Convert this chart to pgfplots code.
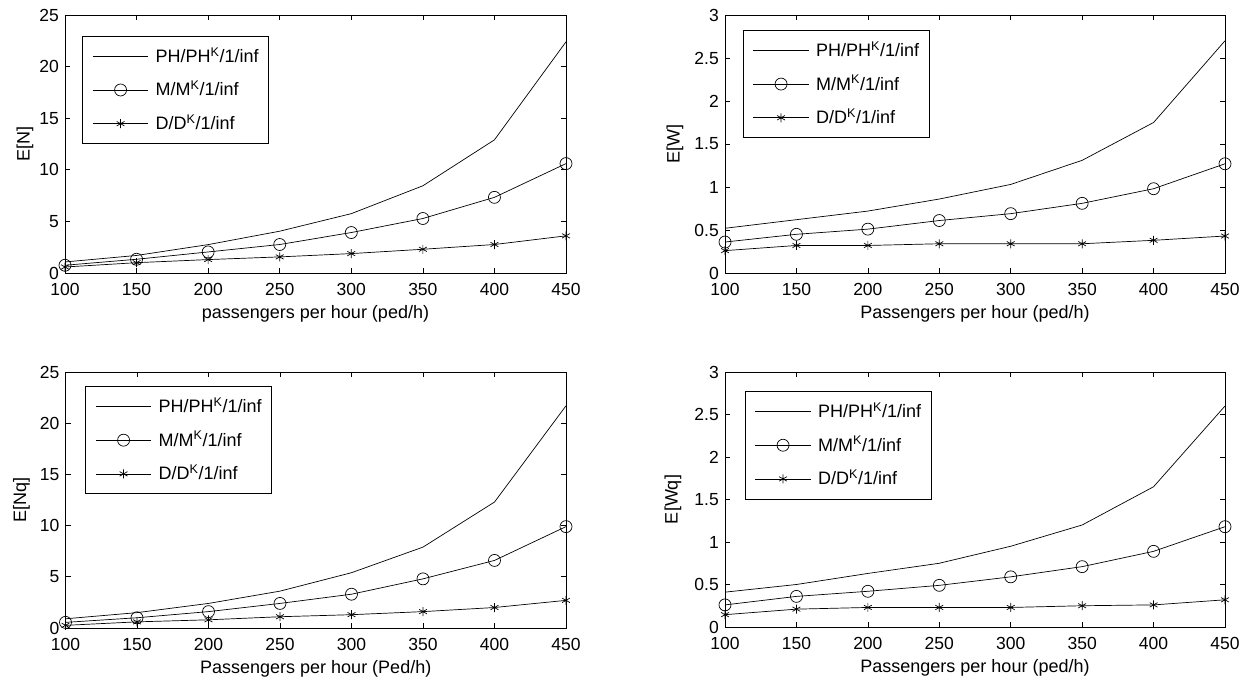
\documentclass[border=0pt]{standalone}
\usepackage{fontspec}
\setmainfont{Liberation Sans}
\usepackage{pgfplots}
\pgfplotsset{compat=1.18}
\pgfplotsset{
 myax/.style={
  scale only axis, anchor=south west,
  xmin=100, xmax=450, xtick={100,150,200,250,300,350,400,450},
  ymin=0,
  tick align=inside, xtick pos=both, ytick pos=both,
  major tick length=5pt,
  axis line style={line width=0.8pt},
  every tick/.style={black, line width=0.6pt},
  tick label style={font=\fontsize{17.5}{21}\selectfont},
  /pgf/number format/assume math mode=true,
  xticklabel style={anchor=north, inner sep=0pt, yshift=-10pt},
  yticklabel style={anchor=east, inner sep=0pt, xshift=-6pt},
  label style={font=\fontsize{18}{22}\selectfont},
  xlabel style={at={([yshift=-32.5pt]axis description cs:0.5,0)}, anchor=north, inner sep=0pt},
  legend cell align=left,
  legend image code/.code={\draw[mark repeat=2,mark phase=2,##1] plot coordinates {(0pt,0pt) (27.8pt,0pt) (55.6pt,0pt)};},
  legend style={anchor=north west, draw=black, line width=0.8pt,
    font=\fontsize{18}{22}\selectfont,
    inner xsep=10pt, inner ysep=11pt, row sep=15.7pt, column sep=7pt,
    nodes={inner sep=0pt, text height=15pt, text depth=3pt}},
  every axis plot/.append style={black, line width=0.7pt},
 },
 ph/.style={no marks},
 mm/.style={mark=o, mark size=6pt, mark options={solid}},
 dd/.style={mark=asterisk, mark size=4.5pt, mark options={solid}},
}
\begin{document}
\begin{tikzpicture}[x=1pt,y=1pt]
\useasboundingbox (0,0) rectangle (1255,682);

% ---------- E[N]
\begin{axis}[myax, at={(65pt,409pt)}, width=501pt, height=258pt,
  ymax=25, ytick={0,5,10,15,20,25},
  xlabel={passengers per hour (ped/h)},
  ylabel={E[N]},
  ylabel style={at={([xshift=-40pt]axis description cs:0,0.5)}, anchor=center, inner sep=0pt},
  legend style={at={(axis description cs:0.034,0.919)}}]
\addplot[ph] coordinates {(100,1.07) (150,1.7) (200,2.75) (250,4.05) (300,5.75) (350,8.45) (400,12.9) (450,22.4)};
\addlegendentry{PH/PH\textsuperscript{K}/1/inf}
\addplot[mm] coordinates {(100,0.75) (150,1.33) (200,2.04) (250,2.76) (300,3.92) (350,5.28) (400,7.33) (450,10.6)};
\addlegendentry{M/M\textsuperscript{K}/1/inf}
\addplot[dd] coordinates {(100,0.58) (150,1.0) (200,1.3) (250,1.56) (300,1.88) (350,2.3) (400,2.76) (450,3.6)};
\addlegendentry{D/D\textsuperscript{K}/1/inf}
\end{axis}

% ---------- E[W]
\begin{axis}[myax, at={(725pt,409pt)}, width=500pt, height=258pt,
  ymax=3, ytick={0,0.5,1,1.5,2,2.5,3},
  xlabel={Passengers per hour (ped/h)},
  ylabel={E[W]},
  ylabel style={at={([xshift=-50pt]axis description cs:0,0.5)}, anchor=center, inner sep=0pt},
  legend style={at={(axis description cs:0.035,0.942)}}]
\addplot[ph] coordinates {(100,0.52) (150,0.62) (200,0.72) (250,0.86) (300,1.03) (350,1.31) (400,1.75) (450,2.70)};
\addlegendentry{PH/PH\textsuperscript{K}/1/inf}
\addplot[mm] coordinates {(100,0.36) (150,0.45) (200,0.51) (250,0.61) (300,0.69) (350,0.81) (400,0.98) (450,1.27)};
\addlegendentry{M/M\textsuperscript{K}/1/inf}
\addplot[dd] coordinates {(100,0.26) (150,0.32) (200,0.32) (250,0.34) (300,0.34) (350,0.34) (400,0.38) (450,0.43)};
\addlegendentry{D/D\textsuperscript{K}/1/inf}
\end{axis}

% ---------- E[Nq]
\begin{axis}[myax, at={(65.5pt,54pt)}, width=500.5pt, height=256pt,
  ymax=25, ytick={0,5,10,15,20,25},
  xlabel={Passengers per hour (Ped/h)},
  ylabel={E[Nq]},
  ylabel style={at={([xshift=-44pt]axis description cs:0,0.5)}, anchor=center, inner sep=0pt},
  legend style={at={(axis description cs:0.039,0.945)}}]
\addplot[ph] coordinates {(100,0.9) (150,1.5) (200,2.4) (250,3.6) (300,5.4) (350,7.9) (400,12.3) (450,21.7)};
\addlegendentry{PH/PH\textsuperscript{K}/1/inf}
\addplot[mm] coordinates {(100,0.55) (150,1.0) (200,1.6) (250,2.4) (300,3.3) (350,4.8) (400,6.6) (450,9.9)};
\addlegendentry{M/M\textsuperscript{K}/1/inf}
\addplot[dd] coordinates {(100,0.26) (150,0.6) (200,0.8) (250,1.1) (300,1.3) (350,1.6) (400,2.0) (450,2.7)};
\addlegendentry{D/D\textsuperscript{K}/1/inf}
\end{axis}

% ---------- E[Wq]
\begin{axis}[myax, at={(725pt,55pt)}, width=500pt, height=255pt,
  ymax=3, ytick={0,0.5,1,1.5,2,2.5,3},
  xlabel={Passengers per hour (ped/h)},
  ylabel={E[Wq]},
  ylabel style={at={([xshift=-52pt]axis description cs:0,0.5)}, anchor=center, inner sep=0pt},
  legend style={at={(axis description cs:0.039,0.925)}}]
\addplot[ph] coordinates {(100,0.41) (150,0.50) (200,0.63) (250,0.75) (300,0.95) (350,1.20) (400,1.65) (450,2.60)};
\addlegendentry{PH/PH\textsuperscript{K}/1/inf}
\addplot[mm] coordinates {(100,0.26) (150,0.36) (200,0.42) (250,0.49) (300,0.59) (350,0.71) (400,0.89) (450,1.18)};
\addlegendentry{M/M\textsuperscript{K}/1/inf}
\addplot[dd] coordinates {(100,0.145) (150,0.21) (200,0.23) (250,0.23) (300,0.23) (350,0.25) (400,0.26) (450,0.32)};
\addlegendentry{D/D\textsuperscript{K}/1/inf}
\end{axis}
\end{tikzpicture}
\end{document}
